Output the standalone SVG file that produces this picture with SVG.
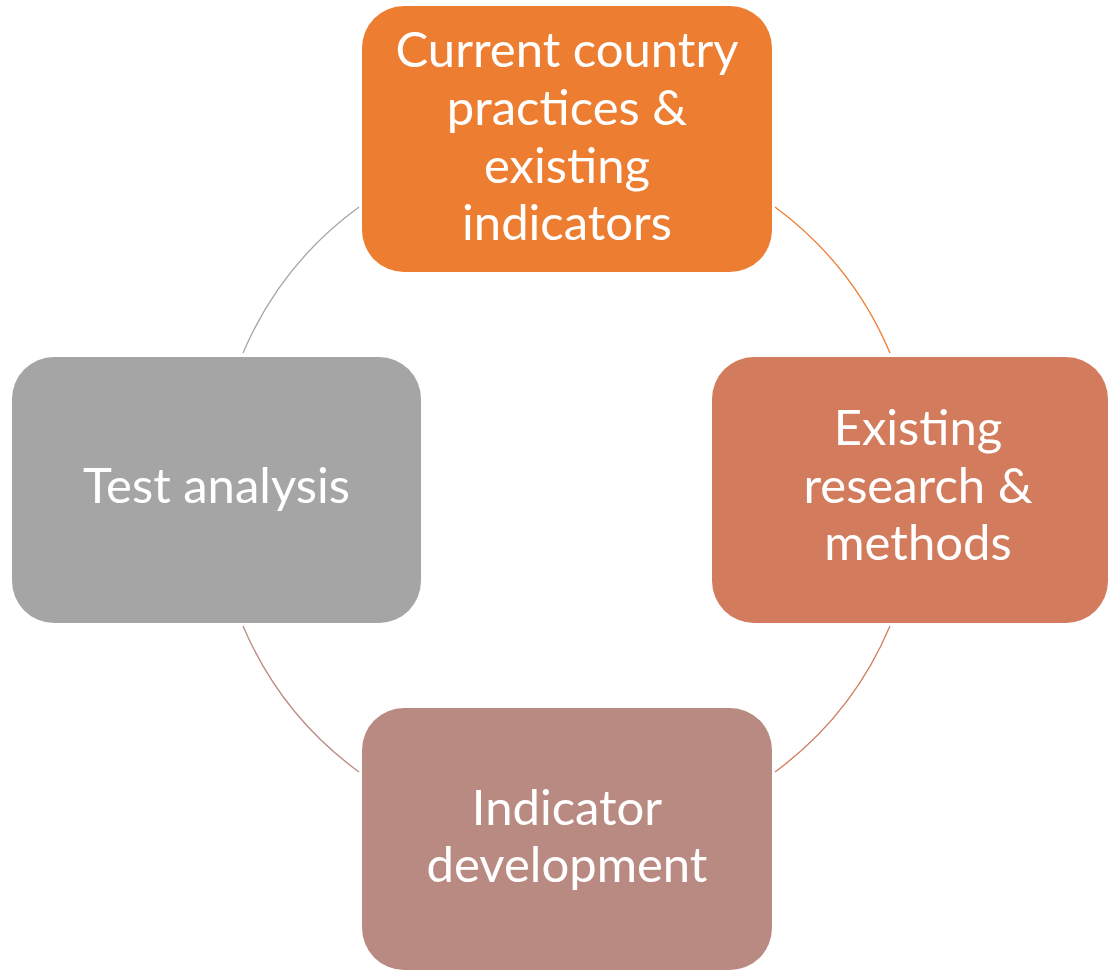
<svg xmlns="http://www.w3.org/2000/svg" width="1108" height="970" viewBox="0 0 1108 970">
<style>
.box{stroke:none}
.lbl{font-family:Lato,"Open Sans","Liberation Sans",sans-serif;font-size:49px;fill:#ffffff;text-anchor:middle}
.arc{fill:none;stroke-width:1.3}
</style>
<rect width="1108" height="970" fill="#ffffff"/>
<g id="connectors">
<path class="arc" stroke="#a5a5a5" d="M243,353 A351,351 0 0 1 359,207"/>
<path class="arc" stroke="#ed7d31" d="M775,207 A351,351 0 0 1 890,353"/>
<path class="arc" stroke="#d27b5d" d="M890,626 A351,351 0 0 1 775,772"/>
<path class="arc" stroke="#b98a81" d="M359,772 A351,351 0 0 1 243,626"/>
</g>
<g id="node-current">
<rect class="box" x="362" y="6" width="410" height="266" rx="42" fill="#ed7d31"/>
<text class="lbl" x="567" y="67">Current country</text>
<text class="lbl" x="567" y="125">practices &amp;</text>
<text class="lbl" x="567" y="183">existing</text>
<text class="lbl" x="567" y="240">indicators</text>
</g>
<g id="node-research">
<rect class="box" x="712" y="357" width="396" height="266" rx="42" fill="#d27b5d"/>
<text class="lbl" x="918" y="445">Existing</text>
<text class="lbl" x="918" y="503">research &amp;</text>
<text class="lbl" x="918" y="560">methods</text>
</g>
<g id="node-indicator">
<rect class="box" x="362" y="708" width="410" height="262" rx="42" fill="#b98a81"/>
<text class="lbl" x="567" y="825">Indicator</text>
<text class="lbl" x="567" y="882">development</text>
</g>
<g id="node-test">
<rect class="box" x="12" y="357" width="409" height="266" rx="42" fill="#a5a5a5"/>
<text class="lbl" x="216.5" y="503">Test analysis</text>
</g>
</svg>
